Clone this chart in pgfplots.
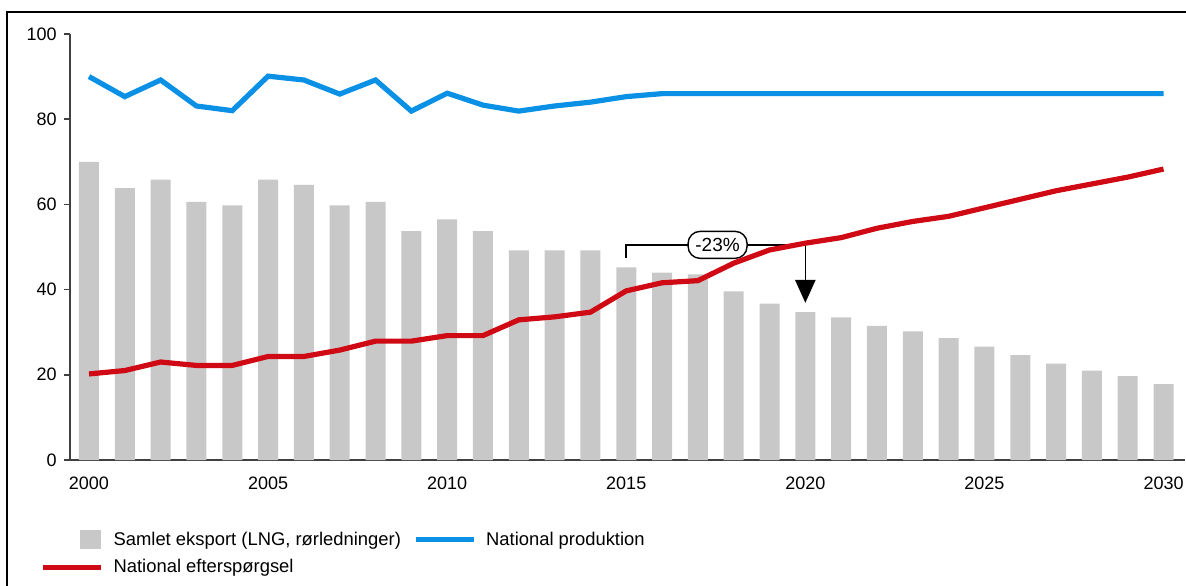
\documentclass[border=0pt]{standalone}
\usepackage{fontspec}
\setmainfont{Liberation Sans}
\usepackage{pgfplots}
\usepackage{pgfplotstable}
\pgfplotsset{compat=1.18}
\definecolor{barg}{HTML}{C8C8C8}
\definecolor{prodblue}{HTML}{0A91E6}
\definecolor{demred}{HTML}{D00A14}
\definecolor{axgray}{HTML}{404040}

\pgfplotsset{
    lineleg/.style={legend image code/.code={\draw[##1] (0bp,0bp) -- (29bp,0bp);}},
    barleg/.style={legend image code/.code={\path[draw=none, fill=none] (0bp,0bp) -- (29bp,0bp);
        \fill[barg] (18.5bp,-4.75bp) rectangle (29bp,4.75bp);}},
}

% eksport, produktion, efterspoergsel
\pgfplotstableread{
year exp prod dem
2000 70.0 90.0 20.2
2001 63.8 85.3 21.0
2002 65.8 89.2 23.0
2003 60.6 83.1 22.2
2004 59.8 82.0 22.2
2005 65.8 90.1 24.3
2006 64.6 89.2 24.3
2007 59.8 85.9 25.8
2008 60.6 89.2 27.9
2009 53.7 81.9 27.9
2010 56.5 86.1 29.2
2011 53.7 83.3 29.2
2012 49.2 81.9 32.9
2013 49.2 83.1 33.6
2014 49.2 84.0 34.7
2015 45.2 85.3 39.7
2016 44.0 86.0 41.6
2017 43.6 86.0 42.1
2018 39.6 86.0 46.2
2019 36.7 86.0 49.3
2020 34.7 86.0 50.9
2021 33.5 86.0 52.2
2022 31.5 86.0 54.4
2023 30.2 86.0 56.0
2024 28.6 86.0 57.2
2025 26.6 86.0 59.2
2026 24.6 86.0 61.2
2027 22.6 86.0 63.2
2028 21.0 86.0 64.8
2029 19.7 86.0 66.4
2030 17.8 86.0 68.3
}\gasdata

\begin{document}
\begin{tikzpicture}
\useasboundingbox (-35bp,-63bp) rectangle (558bp,230bp);
\draw[line width=1bp] (-31.5bp,-70bp) -- (-31.5bp,224bp) -- (565bp,224bp);
\begin{axis}[
    at={(0,0)}, anchor=south west,
    scale only axis, width=557.5bp, height=213bp,
    xmin=1999.47, xmax=2030.6, ymin=0, ymax=100,
    axis lines*=left,
    axis line style={axgray, line width=0.75bp},
    xtick={2000,2005,...,2030}, ytick={0,20,...,100},
    tick align=outside, major tick length=3bp,
    ytick style={axgray, line width=0.75bp},
    xtick style={draw=none},
    /pgf/number format/assume math mode=true,
    /pgf/number format/set thousands separator={},
    tick label style={font=\fontsize{9bp}{10bp}\selectfont, text=black, inner sep=0pt},
    yticklabel style={xshift=-3.5bp},
    xticklabel style={yshift=-5.5bp},
    legend cell align=left,
    legend columns=2,
    legend style={draw=none, fill=none, inner sep=0pt,
        at={(axis description cs:-0.0269,-0.1643)}, anchor=north west,
        font=\fontsize{9.2bp}{10bp}\selectfont, row sep=5bp,
        nodes={inner sep=0pt},
        /tikz/every odd column/.style={column sep=5bp},
        /tikz/every even column/.style={column sep=6bp}},
]
\addplot[ybar, bar width=10bp, fill=barg, draw=none, barleg]
    table[x=year, y=exp] {\gasdata};
\addlegendentry{Samlet eksport (LNG, rørledninger)}

\draw[black, line width=0.8bp] (axis cs:2015,47.4) -- (axis cs:2015,50.5)
    -- (axis cs:2020,50.5) -- (axis cs:2020,42.3);
\fill[black] (axis cs:2019.71,42.3) -- (axis cs:2020.29,42.3)
    -- (axis cs:2020,36.9) -- cycle;
\node[draw, fill=white, rounded corners=6bp, line width=0.7bp,
    minimum width=29.5bp, minimum height=13.5bp, inner sep=0pt,
    font=\fontsize{9.5bp}{10bp}\selectfont] at (axis cs:2017.55,50.5) {-23\%};

\addplot[prodblue, line width=2.6bp, no markers, lineleg]
    table[x=year, y=prod] {\gasdata};
\addlegendentry{National produktion}
\addplot[demred, line width=2.6bp, no markers, lineleg]
    table[x=year, y=dem] {\gasdata};
\addlegendentry{National efterspørgsel}
\end{axis}
\end{tikzpicture}
\end{document}
